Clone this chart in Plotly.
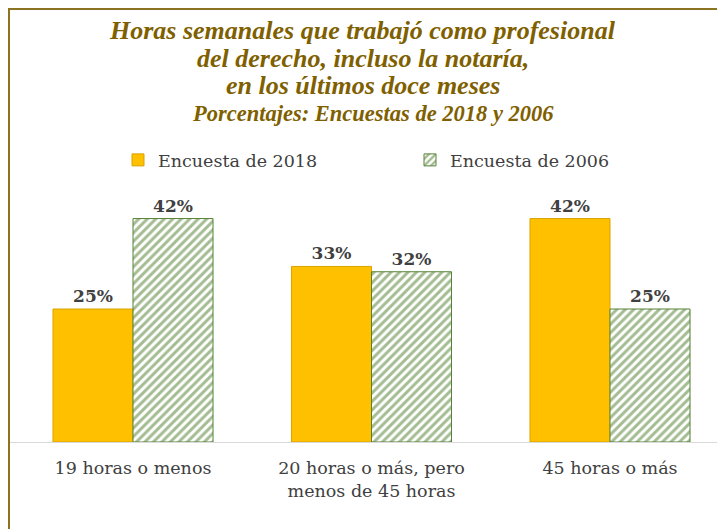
import plotly.graph_objects as go

categories = ["19 horas o menos", "20 horas o más, pero<br>menos de 45 horas", "45 horas o más"]
series_2018 = [25, 33, 42]
series_2006 = [42, 32, 25]
name_2018 = "Encuesta de 2018"
name_2006 = "Encuesta de 2006"
title_lines = ["Horas semanales que trabajó como profesional",
               "del derecho, incluso la notaría,",
               "en los últimos doce meses"]
subtitle = "Porcentajes: Encuestas de 2018 y 2006"

# page has an 8px body margin; the figure is sized to fit inside the window
OFF = 8
W, H = 725 - OFF, 529 - OFF
PLOT_L, PLOT_R, PLOT_T, PLOT_B = 10, 725, 195, 442   # in window pixels
L = PLOT_L - OFF
R = W - (PLOT_R - OFF)
T = PLOT_T - OFF
B = H - (PLOT_B - OFF)
PH = H - T - B
PW = W - L - R

def py(ypx):  # window pixel -> paper y
    return 1 + ((PLOT_T) - ypx) / PH

def px(xpx):  # window pixel -> paper x
    return (xpx - PLOT_L) / PW

body_font = "DejaVu Serif"
title_font = "Liberation Serif"
title_color = "#7F6000"
text_color = "#404040"

fig = go.Figure()
fig.add_trace(go.Bar(
    x=categories, y=series_2018, name=name_2018,
    marker=dict(color="#FFC000", line=dict(color="#D9A300", width=1)),
    text=[f"{v}%" for v in series_2018], textposition="outside",
    textfont=dict(family=body_font, size=17, color=text_color, weight="bold"),
    cliponaxis=False,
))
fig.add_trace(go.Bar(
    x=categories, y=series_2006, name=name_2006,
    marker=dict(color="white", line=dict(color="#548235", width=1),
                pattern=dict(shape="/", fgcolor="#4A7A26", bgcolor="white", size=6, solidity=0.5)),
    text=[f"{v}%" for v in series_2006], textposition="outside",
    textfont=dict(family=body_font, size=17, color=text_color, weight="bold"),
    cliponaxis=False,
))

scale = 238.5
r0 = -(133 - PLOT_L) / scale
r1 = r0 + PW / scale

annotations = []
for i, line in enumerate(title_lines):
    annotations.append(dict(
        text=f"<b><i>{line}</i></b>", x=px(362.5), y=py(30 + 28 * i),
        xref="paper", yref="paper", xanchor="center", yanchor="middle", showarrow=False,
        font=dict(family=title_font, size=26, color=title_color)))
annotations.append(dict(
    text=f"<b><i>{subtitle}</i></b>", x=px(372.5), y=py(113),
    xref="paper", yref="paper", xanchor="center", yanchor="middle", showarrow=False,
    font=dict(family=title_font, size=22.5, color=title_color)))

border = "#8B7322"
shapes = [
    dict(type="line", xref="paper", yref="paper", x0=px(9), x1=px(9), y0=py(8), y1=py(540),
         line=dict(color=border, width=2)),
    dict(type="line", xref="paper", yref="paper", x0=px(8), x1=px(740), y0=py(9), y1=py(9),
         line=dict(color=border, width=2)),
]

fig.update_layout(
    width=W, height=H,
    margin=dict(l=L, r=R, t=T, b=B, pad=0),
    paper_bgcolor="white", plot_bgcolor="white",
    barmode="group", bargap=0.329, bargroupgap=0,
    showlegend=True,
    legend=dict(orientation="h", x=px(118), y=py(160), xanchor="left", yanchor="middle",
                font=dict(family=body_font, size=17.5, color=text_color),
                entrywidth=247, entrywidthmode="pixels", bgcolor="rgba(0,0,0,0)"),
    xaxis=dict(type="category", range=[r0, r1], showline=True, linecolor="#D9D9D9", linewidth=1,
               ticks="outside", ticklen=10, tickcolor="rgba(0,0,0,0)",
               tickfont=dict(family=body_font, size=17.5, color=text_color), showgrid=False),
    yaxis=dict(range=[0, PH / 5.32], visible=False, showgrid=False),
    annotations=annotations, shapes=shapes,
)

fig.write_html("out.html")
